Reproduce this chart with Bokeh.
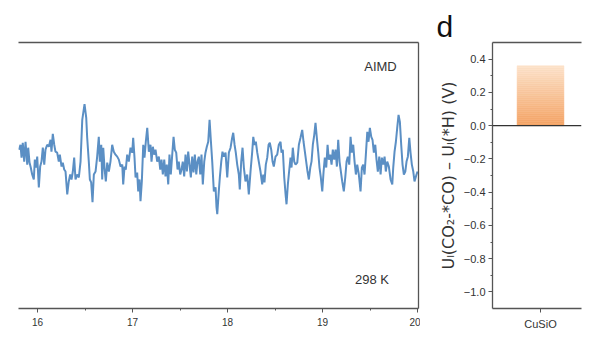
from bokeh.plotting import figure
from bokeh.layouts import row
from bokeh.models import (Range1d, LinearAxis, Label, Span, FixedTicker,
                          CustomJSTickFormatter, ColumnDataSource)
from bokeh.embed import file_html
from bokeh.resources import INLINE

# ---------------- data: AIMD energy trace (panel c, right part) ----------------
time_ps = [
    15.803, 15.821, 15.832, 15.845, 15.860, 15.874, 15.892, 15.902, 15.916, 15.929,
    15.944, 15.961, 15.972, 15.986, 15.997, 16.014, 16.028, 16.042, 16.056, 16.071,
    16.084, 16.102, 16.119, 16.137, 16.147, 16.161, 16.176, 16.189, 16.207, 16.224,
    16.235, 16.253, 16.266, 16.281, 16.295, 16.313, 16.329, 16.344, 16.358, 16.372,
    16.386, 16.400, 16.418, 16.435, 16.453,
    16.471, 16.495, 16.513, 16.523, 16.540, 16.551, 16.565, 16.579, 16.593, 16.611,
    16.628, 16.645, 16.656, 16.671, 16.681, 16.692, 16.705, 16.719, 16.734, 16.751,
    16.768, 16.786, 16.803, 16.821, 16.839, 16.856, 16.874, 16.892, 16.902, 16.916,
    16.929, 16.944, 16.961, 16.979, 16.997, 17.007, 17.021, 17.032, 17.049, 17.060,
    17.074, 17.084, 17.098, 17.113, 17.126, 17.140,
    17.155, 17.172, 17.189, 17.200, 17.214, 17.228, 17.242, 17.260, 17.277, 17.292,
    17.305, 17.319, 17.334, 17.347, 17.361, 17.376, 17.389, 17.403, 17.418, 17.432,
    17.445, 17.460, 17.474, 17.487, 17.502, 17.516, 17.529, 17.544, 17.558, 17.572,
    17.586, 17.600, 17.614, 17.628, 17.642, 17.656, 17.671, 17.684, 17.698, 17.713,
    17.726, 17.740, 17.755, 17.768, 17.782, 17.797, 17.811, 17.824,
    17.839, 17.856, 17.874, 17.884, 17.892, 17.908, 17.919, 17.934, 17.947, 17.961,
    17.979, 17.997, 18.014, 18.032, 18.049, 18.060, 18.074, 18.087, 18.102, 18.119,
    18.129, 18.144, 18.158, 18.172, 18.189, 18.207, 18.224, 18.242, 18.260, 18.271,
    18.284, 18.298, 18.313, 18.329, 18.347, 18.365, 18.376, 18.389, 18.403, 18.418,
    18.432, 18.445, 18.460, 18.474, 18.487, 18.505, 18.523,
    18.540, 18.558, 18.568, 18.582, 18.597, 18.611, 18.621, 18.635, 18.645, 18.663,
    18.674, 18.687, 18.702, 18.716, 18.734, 18.751, 18.768, 18.786, 18.800, 18.814,
    18.828, 18.842, 18.856, 18.871, 18.884, 18.898, 18.913, 18.926, 18.940, 18.955,
    18.968, 18.982, 18.997, 19.011, 19.024, 19.039, 19.053, 19.066, 19.081, 19.095,
    19.108, 19.123, 19.137, 19.151, 19.165, 19.179, 19.193, 19.207, 19.224,
    19.239, 19.253, 19.266, 19.281, 19.295, 19.308, 19.323, 19.337, 19.351, 19.365,
    19.382, 19.400, 19.414, 19.428, 19.442, 19.456, 19.471, 19.484, 19.498, 19.513,
    19.526, 19.540, 19.555, 19.568, 19.582, 19.597, 19.611, 19.624, 19.639, 19.653,
    19.666, 19.681, 19.698, 19.716, 19.734, 19.744, 19.758, 19.772, 19.786, 19.800,
    19.814, 19.828, 19.842, 19.856, 19.871, 19.884, 19.898, 19.913, 19.926, 19.940,
    19.955, 19.968, 19.989, 20.000,
]

energy = [
    16.0, 16.5, 15.2, 16.7, 14.8, 16.8, 14.5, 16.2, 14.7, 14.2,
    13.5, 13.0, 15.0, 14.2, 15.3, 12.2, 14.3, 14.8, 16.2, 14.5,
    16.0, 16.5, 16.3, 17.0, 15.8, 17.6, 16.5, 15.8, 15.7, 14.8,
    15.5, 14.3, 14.7, 14.0, 13.8, 11.5, 12.8, 13.5, 13.0, 13.8,
    15.2, 13.0, 13.5, 13.2, 14.8,
    19.0, 20.6, 19.2, 17.2, 14.8, 13.0, 12.7, 10.7, 13.5, 13.8,
    15.3, 17.3, 14.8, 16.5, 13.0, 16.2, 14.2, 12.8, 14.7, 13.8,
    14.8, 16.5, 15.8, 15.5, 15.3, 15.0, 14.3, 14.5, 12.5, 14.3,
    14.0, 15.5, 14.8, 16.2, 15.7, 17.2, 15.2, 13.2, 13.7, 11.8,
    13.0, 10.8, 12.8, 16.5, 15.2, 16.8,
    18.2, 15.8, 16.5, 14.8, 16.3, 15.5, 16.0, 14.8, 15.3, 14.0,
    15.0, 13.5, 15.0, 13.3, 14.5, 12.5, 15.5, 13.5, 15.5, 17.3,
    16.0, 15.7, 14.0, 14.8, 13.5, 14.0, 14.8, 13.3, 15.5, 13.8,
    15.8, 14.5, 13.2, 15.3, 13.7, 15.5, 13.5, 14.8, 15.3, 13.5,
    15.5, 12.5, 14.8, 15.7, 16.3, 16.8, 19.0, 17.0,
    14.8, 11.8, 12.2, 10.2, 9.5, 11.8, 13.2, 14.8, 15.8, 15.3,
    15.7, 13.2, 15.7, 16.2, 17.2, 17.7, 16.5, 15.7, 14.5, 13.5,
    12.0, 14.8, 16.2, 14.2, 12.8, 13.5, 11.5, 13.8, 15.8, 17.3,
    16.5, 16.8, 15.7, 14.8, 13.8, 12.5, 13.5, 12.7, 14.5, 15.2,
    16.5, 16.7, 16.0, 14.8, 14.3, 15.3, 15.5,
    16.5, 16.8, 15.7, 16.0, 13.2, 11.5, 10.5, 12.5, 13.5, 15.2,
    14.2, 16.2, 14.8, 14.5, 14.7, 16.5, 17.2, 18.0, 16.8, 15.8,
    14.8, 13.8, 13.0, 14.2, 14.8, 16.5, 17.5, 18.7, 17.2, 15.7,
    14.2, 13.2, 11.8, 13.8, 15.2, 14.2, 16.5, 15.0, 15.5, 14.5,
    16.0, 15.0, 16.0, 14.3, 17.0, 14.8, 13.8, 12.8, 11.8,
    13.2, 14.8, 15.3, 14.5, 17.3, 15.7, 16.5, 14.8, 13.5, 14.5,
    13.5, 11.8, 14.2, 14.5, 13.5, 15.5, 17.8, 16.8, 18.2, 17.3,
    17.0, 15.7, 16.5, 15.0, 13.8, 15.3, 13.5, 15.2, 14.5, 15.3,
    13.8, 14.8, 14.3, 13.0, 12.5, 14.2, 15.8, 16.8, 18.2, 19.5,
    18.8, 16.5, 14.5, 13.5, 13.8, 14.8, 15.3, 17.2, 15.7, 14.5,
    13.8, 12.8, 13.5, 13.8,
]

time_ticks = [16, 17, 18, 19, 20]
time_minor = [16.5, 17.5, 18.5, 19.5]

# ---------------- data: panel d ----------------
categories = ["CuSiO"]
delta_UL = [0.36]
ud_ticks = [-1.0, -0.8, -0.6, -0.4, -0.2, 0.0, 0.2, 0.4]
ud_minor = [-0.9, -0.7, -0.5, -0.3, -0.1, 0.1, 0.3]

FONT = "Liberation Sans"
AX = "#555555"
TXT = "#333333"


def frame_line_axis():
    """An axis that only draws a frame edge line (no ticks, no labels)."""
    return LinearAxis(ticker=FixedTicker(ticks=[], minor_ticks=[]),
                      axis_line_color=AX, axis_line_width=1.3,
                      major_tick_line_color=None, minor_tick_line_color=None,
                      major_tick_out=0, major_tick_in=0,
                      minor_tick_out=0, minor_tick_in=0,
                      major_label_standoff=0)


# ---------------- left panel ----------------
p1 = figure(width=420, height=338, x_range=Range1d(15.8, 20.01),
            y_range=Range1d(0, 26.8), y_axis_location=None,
            output_backend="svg", toolbar_location=None,
            min_border_left=18, min_border_right=2,
            min_border_top=42, min_border_bottom=28)
p1.outline_line_color = None
p1.grid.visible = False
p1.line(time_ps, energy, line_color="#5b8fc4", line_width=2)

xa = p1.xaxis[0]
xa.ticker = FixedTicker(ticks=time_ticks, minor_ticks=time_minor)
xa.axis_line_color = AX
xa.axis_line_width = 1.3
xa.major_tick_line_color = AX
xa.minor_tick_line_color = AX
xa.major_tick_in = 0
xa.major_tick_out = 4
xa.minor_tick_in = 0
xa.minor_tick_out = 2
xa.major_label_text_font = FONT
xa.major_label_text_font_size = "10px"
xa.major_label_text_color = TXT
xa.major_label_standoff = 5

p1.add_layout(frame_line_axis(), "above")
p1.add_layout(frame_line_axis(), "right")

p1.add_layout(Label(x=19.61, y=24.4, text="AIMD", text_align="center",
                    text_baseline="middle", text_font=FONT,
                    text_font_size="13px", text_color=TXT))
p1.add_layout(Label(x=19.52, y=2.9, text="298 K", text_align="center",
                    text_baseline="middle", text_font=FONT,
                    text_font_size="13px", text_color=TXT))

# ---------------- right panel (d) ----------------
p2 = figure(width=180, height=338, x_range=Range1d(-0.82, 0.70),
            y_range=Range1d(-1.1, 0.5),
            output_backend="svg", toolbar_location=None,
            min_border_left=72, min_border_right=19,
            min_border_top=42, min_border_bottom=30)
p2.outline_line_color = None
p2.grid.visible = False

p2.title.text = "d"
p2.title.text_font = FONT
p2.title.text_font_size = "30px"
p2.title.text_font_style = "normal"
p2.title.text_color = "#111111"
p2.title.align = "left"
p2.title.offset = -56
p2.title.standoff = 0

# gradient bar built from stacked slices
c_bot = (245, 163, 100)
c_top = (253, 226, 202)
n = 30
for i, (name, v) in enumerate(zip(categories, delta_UL)):
    b, t, cols = [], [], []
    for k in range(n):
        f = (k + 0.5) / n
        b.append(v * k / n)
        t.append(v * (k + 1) / n)
        cols.append("#%02x%02x%02x" % tuple(int(round(c_bot[j] + (c_top[j] - c_bot[j]) * f)) for j in range(3)))
    src = ColumnDataSource(dict(left=[i - 0.4] * n, right=[i + 0.4] * n,
                                bottom=b, top=t, color=cols))
    p2.quad(left="left", right="right", bottom="bottom", top="top",
            fill_color="color", line_color="color", line_width=0.5, source=src)

p2.add_layout(Span(location=0, dimension="width", line_color="#333333",
                   line_width=1.3))

ya = p2.yaxis[0]
ya.ticker = FixedTicker(ticks=ud_ticks, minor_ticks=ud_minor)
ya.formatter = CustomJSTickFormatter(code="return tick.toFixed(1).replace('-', '\u2212');")
ya.axis_line_color = AX
ya.axis_line_width = 1.3
ya.major_tick_line_color = AX
ya.minor_tick_line_color = AX
ya.major_tick_in = 0
ya.major_tick_out = 4
ya.minor_tick_in = 0
ya.minor_tick_out = 2
ya.major_label_text_font = FONT
ya.major_label_text_font_size = "11px"
ya.major_label_text_color = TXT
ya.major_label_standoff = 3
ya.axis_label = "Uₗ(CO₂-*CO) – Uₗ(*H) (V)"
ya.axis_label_text_font = "DejaVu Sans"
ya.axis_label_text_font_size = "16px"
ya.axis_label_text_font_style = "normal"
ya.axis_label_text_color = TXT
ya.axis_label_standoff = 3

xb = p2.xaxis[0]
xb.ticker = FixedTicker(ticks=list(range(len(categories))), minor_ticks=[])
xb.formatter = CustomJSTickFormatter(args=dict(names=categories),
                                     code="return names[Math.round(tick)] || '';")
xb.axis_line_color = AX
xb.axis_line_width = 1.3
xb.major_tick_line_color = AX
xb.major_tick_in = 0
xb.major_tick_out = 4
xb.major_label_text_font = FONT
xb.major_label_text_font_size = "11px"
xb.major_label_text_color = TXT
xb.major_label_standoff = 5

p2.add_layout(frame_line_axis(), "above")

layout = row(p1, p2)
open("out.html", "w").write(file_html(layout, INLINE))
